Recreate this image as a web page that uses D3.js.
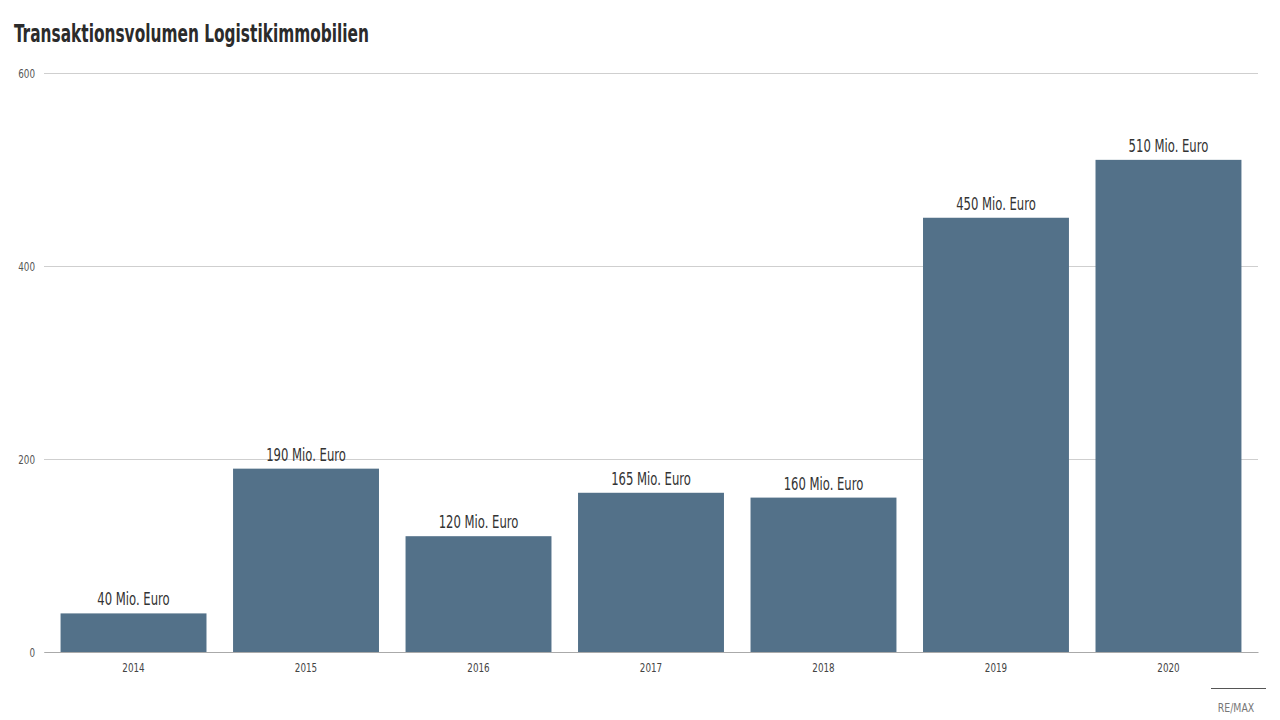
<!DOCTYPE html>
<html>
<head>
<meta charset="utf-8">
<script src="https://cdn.jsdelivr.net/npm/d3@7"></script>
<style>
  body { margin: 0; background: #fff; }
  text { font-family: "DejaVu Sans Condensed", "DejaVu Sans", sans-serif; }
</style>
</head>
<body>
<div id="viz-body"></div>
<script>
// data
var years = ["2014", "2015", "2016", "2017", "2018", "2019", "2020"];
var volumes = [40, 190, 120, 165, 160, 450, 510];
var yTicks = [0, 200, 400, 600];

var width = 1280, height = 720,
    margin = { top: 73, right: 22, bottom: 68, left: 44 },
    barColor = "#537189";

// squeeze text horizontally to mimic the condensed face of the original
function condense(sel, factor) {
    sel.each(function() {
        var len = this.getComputedTextLength();
        d3.select(this)
            .attr("textLength", len * factor)
            .attr("lengthAdjust", "spacingAndGlyphs");
    });
}

const svg = d3.select("#viz-body").append("svg")
    .attr("width", width)
    .attr("height", height);

// title
svg.append("text")
    .attr("x", 14).attr("y", 42)
    .attr("font-size", 25)
    .attr("font-weight", "bold")
    .attr("fill", "#2b2b2b")
    .attr("textLength", 355)
    .attr("lengthAdjust", "spacingAndGlyphs")
    .text("Transaktionsvolumen Logistikimmobilien");

const x = d3.scaleBand()
    .domain(years)
    .range([margin.left, width - margin.right])
    .paddingInner(0.154)
    .paddingOuter(0.096);

const y = d3.scaleLinear()
    .domain([0, 600])
    .range([height - margin.bottom, margin.top]);

// grid lines + y labels
const yAxis = svg.append("g")
    .attr("transform", "translate(" + margin.left + ",0)")
    .call(d3.axisLeft(y).tickValues(yTicks).tickSize(-(width - margin.left - margin.right)).tickPadding(9));
yAxis.select(".domain").remove();
yAxis.selectAll("line").attr("stroke", "#cfcfcf");
yAxis.selectAll("text")
    .attr("font-size", 13)
    .attr("fill", "#555")
    .style("font-family", "'DejaVu Sans Condensed', sans-serif")
    .call(condense, 0.75);

// bars
svg.selectAll("rect.bar")
    .data(volumes)
    .enter().append("rect")
    .attr("class", "bar")
    .attr("x", (d, i) => x(years[i]))
    .attr("width", x.bandwidth())
    .attr("y", d => y(d))
    .attr("height", d => y(0) - y(d))
    .attr("fill", barColor);

// value labels
svg.selectAll("text.val")
    .data(volumes)
    .enter().append("text")
    .attr("class", "val")
    .attr("x", (d, i) => x(years[i]) + x.bandwidth() / 2)
    .attr("y", d => y(d) - 8)
    .attr("text-anchor", "middle")
    .attr("font-size", 17)
    .attr("fill", "#333")
    .text(d => d + " Mio. Euro")
    .call(condense, 0.76);

// x axis
const xAxis = svg.append("g")
    .attr("transform", "translate(0," + y(0) + ")")
    .call(d3.axisBottom(x).tickSize(0).tickPadding(11));
xAxis.select(".domain").attr("stroke", "#aaa");
xAxis.selectAll("text")
    .attr("font-size", 13)
    .attr("fill", "#444")
    .style("font-family", "'DejaVu Sans Condensed', sans-serif")
    .call(condense, 0.75);

// source footer
svg.append("line")
    .attr("x1", 1211).attr("x2", 1266)
    .attr("y1", 688.5).attr("y2", 688.5)
    .attr("stroke", "#555");
svg.append("text")
    .attr("x", 1236).attr("y", 712)
    .attr("text-anchor", "middle")
    .attr("font-size", 13)
    .attr("fill", "#777")
    .text("RE/MAX")
    .call(condense, 0.8);
</script>
</body>
</html>
